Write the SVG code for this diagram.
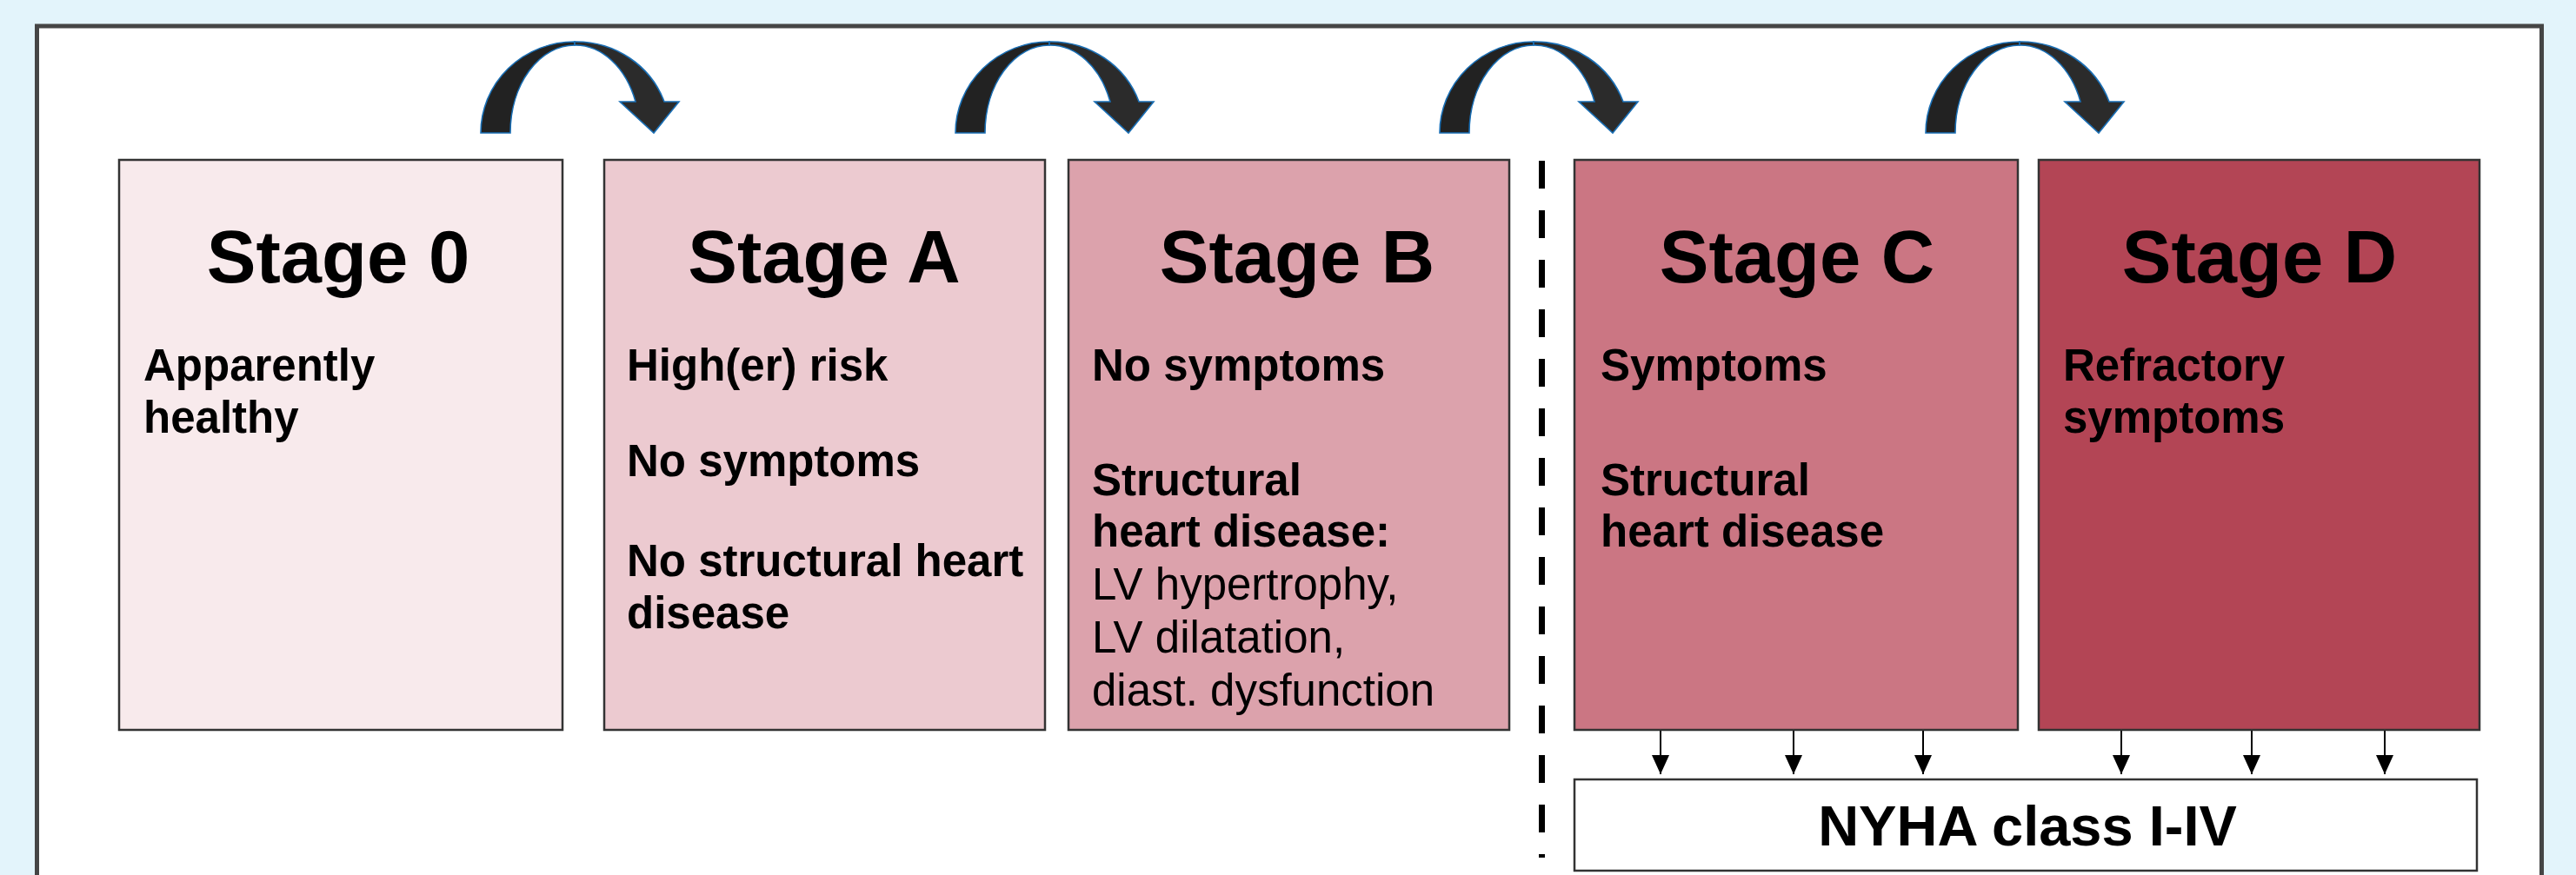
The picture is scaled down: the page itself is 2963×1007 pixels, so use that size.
<svg xmlns="http://www.w3.org/2000/svg" width="2963" height="1007" viewBox="0 0 2963 1007">
  <style>
    .box { stroke: #333333; stroke-width: 2.5; }
    .title { font-family: "Liberation Sans", Arial, sans-serif; font-weight: bold; font-size: 85px; text-anchor: middle; fill: #000; }
    .b { font-family: "Liberation Sans", Arial, sans-serif; font-weight: bold; font-size: 51px; fill: #000; }
    .r { font-family: "Liberation Sans", Arial, sans-serif; font-weight: normal; font-size: 51px; fill: #000; }
    .nyha { font-family: "Liberation Sans", Arial, sans-serif; font-weight: bold; font-size: 65px; text-anchor: middle; fill: #000; }
    .curl1 { fill: #222222; stroke: #1a6fb5; stroke-width: 1.6; stroke-linejoin: miter; }
    .curl2 { fill: #2b2b2b; stroke: #1a6fb5; stroke-width: 1.6; stroke-linejoin: miter; }
    .down { stroke: #000; stroke-width: 2; fill: none; marker-end: url(#head); }
  </style>
  <defs>
    <marker id="head" markerUnits="userSpaceOnUse" markerWidth="22" markerHeight="20" refX="22" refY="10" orient="auto">
      <path d="M0,0 L22,10 L0,20 Z" fill="#000"/>
    </marker>
    <g id="curl">
      <path class="curl1" d="M0 153 A108 105 0 0 1 108 48 L108 52 A74 101 0 0 0 34 153 Z"/>
      <path class="curl2" d="M108 48 A108 105 0 0 1 211 117 L228 117 L199 153 L160 117 L178 117 A74 101 0 0 0 108 52 Z"/>
    </g>
  </defs>

  <rect x="0" y="0" width="2963" height="1007" fill="#E3F4FB"/>
  <rect x="42.5" y="30" width="2881" height="1100" fill="#FFFFFF" stroke="#454545" stroke-width="5"/>

  <g id="stage0">
    <rect class="box" x="137" y="184" width="510" height="656" fill="#F8EAEC"/>
    <text class="title" x="389" y="325">Stage 0</text>
    <text class="b" x="165" y="438">Apparently</text>
    <text class="b" x="165" y="498">healthy</text>
  </g>

  <g id="stageA">
    <rect class="box" x="695" y="184" width="507" height="656" fill="#ECCAD0"/>
    <text class="title" x="948" y="325">Stage A</text>
    <text class="b" x="721" y="438">High(er) risk</text>
    <text class="b" x="721" y="548">No symptoms</text>
    <text class="b" x="721" y="663">No structural heart</text>
    <text class="b" x="721" y="723">disease</text>
  </g>

  <g id="stageB">
    <rect class="box" x="1229" y="184" width="507" height="656" fill="#DCA2AC"/>
    <text class="title" x="1492" y="325">Stage B</text>
    <text class="b" x="1256" y="438">No symptoms</text>
    <text class="b" x="1256" y="570">Structural</text>
    <text class="b" x="1256" y="629">heart disease:</text>
    <text class="r" x="1256" y="690">LV hypertrophy,</text>
    <text class="r" x="1256" y="751">LV dilatation,</text>
    <text class="r" x="1256" y="812">diast. dysfunction</text>
  </g>

  <g id="separator">
    <line x1="1773.5" y1="185" x2="1773.5" y2="987" stroke="#000" stroke-width="7" stroke-dasharray="32 25"/>
  </g>

  <g id="stageC">
    <rect class="box" x="1811" y="184" width="510" height="656" fill="#CB7683"/>
    <text class="title" x="2067" y="325">Stage C</text>
    <text class="b" x="1841" y="438">Symptoms</text>
    <text class="b" x="1841" y="570">Structural</text>
    <text class="b" x="1841" y="629">heart disease</text>
  </g>

  <g id="stageD">
    <rect class="box" x="2345" y="184" width="507" height="656" fill="#B34555"/>
    <text class="title" x="2599" y="325">Stage D</text>
    <text class="b" x="2373" y="438">Refractory</text>
    <text class="b" x="2373" y="498">symptoms</text>
  </g>

  <g id="nyha">
    <rect class="box" x="1811" y="897" width="1038" height="105" fill="#FFFFFF"/>
    <text class="nyha" x="2332" y="973">NYHA class I-IV</text>
  </g>

  <g id="connectors">
    <use href="#curl" transform="translate(553,0)"/>
    <use href="#curl" transform="translate(1099,0)"/>
    <use href="#curl" transform="translate(1656,0)"/>
    <use href="#curl" transform="translate(2215,0)"/>
    <line class="down" x1="1910" y1="841" x2="1910" y2="891"/>
    <line class="down" x1="2063" y1="841" x2="2063" y2="891"/>
    <line class="down" x1="2212" y1="841" x2="2212" y2="891"/>
    <line class="down" x1="2440" y1="841" x2="2440" y2="891"/>
    <line class="down" x1="2590" y1="841" x2="2590" y2="891"/>
    <line class="down" x1="2743" y1="841" x2="2743" y2="891"/>
  </g>
</svg>
